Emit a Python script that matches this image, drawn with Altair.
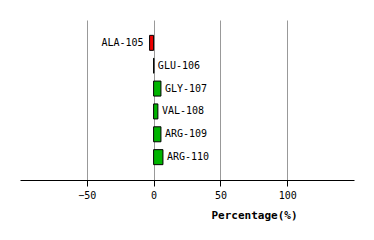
import altair as alt
import pandas as pd

residues = ["ALA-105", "GLU-106", "GLY-107", "VAL-108", "ARG-109", "ARG-110"]
values = [-3.0, 0.2, 5.5, 3.2, 5.5, 7.0]

df = pd.DataFrame({"residue": residues, "value": values})
df["zero"] = 0
df["color"] = ["#ee0000" if v < 0 else "#00b400" for v in values]

FONT = "DejaVu Sans Mono"

x = alt.X("value:Q", scale=alt.Scale(domain=[-100, 150], nice=False, zero=False),
          axis=alt.Axis(values=[-50, 0, 50, 100], title="Percentage(%)",
                        grid=True, gridColor="#999999", gridWidth=1,
                        domainColor="black", tickColor="black", tickSize=6,
                        labelFont=FONT, labelFontSize=10, labelColor="black", labelPadding=4,
                        titleFont=FONT, titleFontSize=11, titleFontWeight="bold",
                        titleColor="black", titleX=234, titleY=35, titleAlign="center",
                        titleBaseline="middle"))
y = alt.Y("residue:N", sort=residues,
          scale=alt.Scale(paddingInner=0, paddingOuter=0.5), axis=None)

bars = alt.Chart(df).mark_bar(size=15, stroke="black", strokeWidth=1).encode(
    x=x, x2="zero:Q", y=y, color=alt.Color("color:N", scale=None)
)

neg = alt.Chart(df).transform_filter("datum.value < 0").mark_text(
    align="right", baseline="middle", dx=-6, font=FONT, fontSize=10, color="black"
).encode(x="value:Q", y=y, text="residue:N")

pos = alt.Chart(df).transform_filter("datum.value >= 0").mark_text(
    align="left", baseline="middle", dx=4, font=FONT, fontSize=10, color="black"
).encode(x="value:Q", y=y, text="residue:N")

chart = alt.layer(bars, neg, pos).properties(
    width=334, height=160,
    autosize=alt.AutoSizeParams(type="none"),
    padding={"left": 20, "top": 20, "right": 20, "bottom": 60},
).configure(background="white").configure_view(stroke=None)

chart.save("out.html", embed_options={"renderer": "svg", "actions": False})
